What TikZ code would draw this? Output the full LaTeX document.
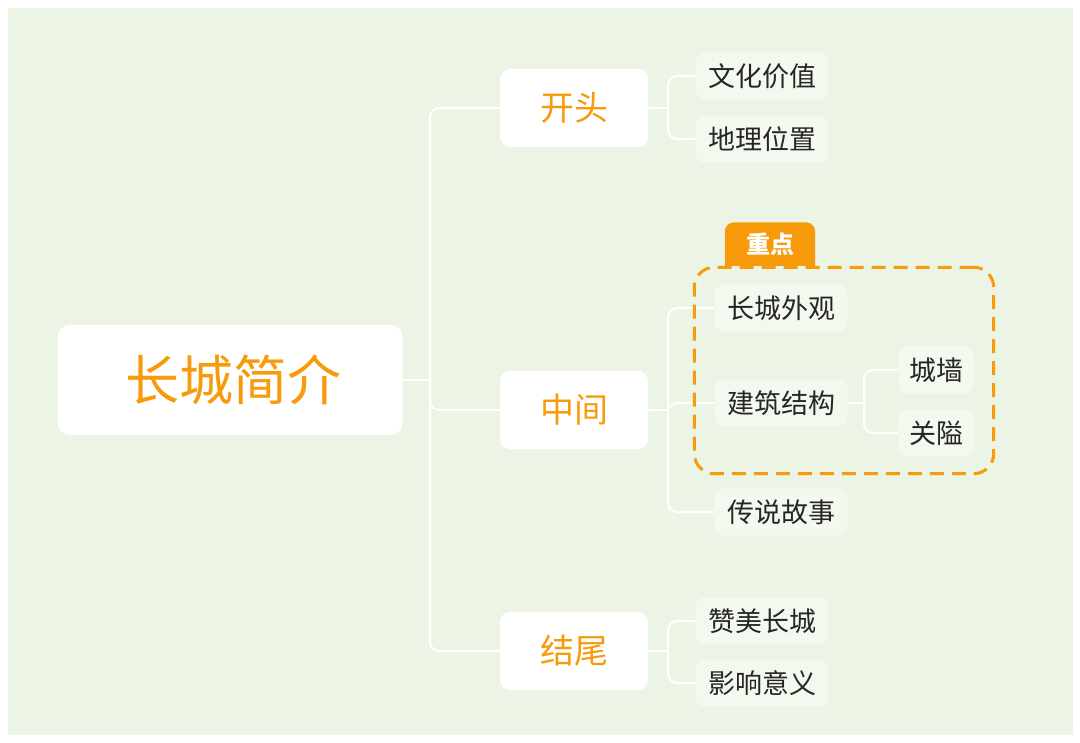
\documentclass[tikz,border=0pt]{standalone}
\usepackage{fontspec}
\setmainfont{Noto Sans CJK SC}
\usetikzlibrary{positioning,fit,backgrounds}

\definecolor{mapgreen}{RGB}{236,244,230}
\definecolor{leafgreen}{RGB}{244,249,240}
\definecolor{maporange}{RGB}{248,155,10}

\begin{document}
\begin{tikzpicture}[
      x=1pt, y=-1pt,
      rootbox/.style ={rectangle, rounded corners=12pt, fill=white, text=maporange,
                       minimum width=345pt, minimum height=110pt, font=\fontsize{54}{60}\selectfont},
      topicbox/.style={rectangle, rounded corners=10pt, fill=white, text=maporange,
                       minimum width=148pt, minimum height=78pt, font=\fontsize{34}{40}\selectfont},
      leafbox/.style ={rectangle, rounded corners=9pt, fill=leafgreen, text=black!85,
                       minimum width=133pt, minimum height=47pt, font=\fontsize{27}{32}\selectfont},
      smallleaf/.style={leafbox, minimum width=75pt},
      tagbox/.style  ={text=white, minimum width=90pt, minimum height=43pt,
                       font=\fontsize{24}{28}\selectfont\bfseries},
      link/.style    ={draw=white, line width=2pt, rounded corners=9pt}
    ]
    \useasboundingbox (0,0) rectangle (1080,743);
    \begin{scope}[on background layer]
      \fill[mapgreen] (8,8) rectangle (1073,735);
    \end{scope}
    % --- root and topics ---
    \node[rootbox]  (root)     at (230,380) {\hspace{6pt}长城简介};
    \node[topicbox] (kaitou)   at (574,108) {开头};
    \node[topicbox] (zhongjian) at (574,410) {中间};
    \node[topicbox] (jiewei)   at (574,651) {结尾};
    % --- leaves ---
    \node[leafbox] (wenhua)    at (762,76)  {文化价值};
    \node[leafbox] (dili)      at (762,139) {地理位置};
    \node[leafbox] (waiguan)   at (781,308) {长城外观};
    \node[leafbox] (jianzhu)   at (781,403) {建筑结构};
    \node[leafbox] (chuanshuo) at (781,512) {传说故事};
    \node[smallleaf] (chengqiang) at (936,370) {城墙};
    \node[smallleaf] (guanai)     at (936,433) {关隘};
    \node[leafbox] (zanmei)    at (762,621) {赞美长城};
    \node[leafbox] (yingxiang) at (762,683) {影响意义};
    % --- fork points ---
    \coordinate (fork0) at (430,380);
    \coordinate (fork1) at (668,108);
    \coordinate (fork2) at (668,410);
    \coordinate (fork3) at (668,651);
    \coordinate (fork4) at (864,403);
    % --- connectors (behind) ---
    \begin{scope}[on background layer]
      \draw[link] (root.east) -- (fork0);
      \draw[link] (fork0) |- (kaitou.west);
      \draw[link] (fork0) |- (zhongjian.west);
      \draw[link] (fork0) |- (jiewei.west);
      \draw[link] (kaitou.east) -- (fork1);
      \draw[link] (fork1) |- (wenhua.west);
      \draw[link] (fork1) |- (dili.west);
      \draw[link] (zhongjian.east) -- (fork2);
      \draw[link] (fork2) |- (waiguan.west);
      \draw[link] (fork2) |- (jianzhu.west);
      \draw[link] (fork2) |- (chuanshuo.west);
      \draw[link] (jianzhu.east) -- (fork4);
      \draw[link] (fork4) |- (chengqiang.west);
      \draw[link] (fork4) |- (guanai.west);
      \draw[link] (jiewei.east) -- (fork3);
      \draw[link] (fork3) |- (zanmei.west);
      \draw[link] (fork3) |- (yingxiang.west);
    \end{scope}
    % --- highlighted group ---
    \node[draw=maporange, line width=3pt, dash pattern=on 14pt off 8pt, rounded corners=20pt,
          fit=(waiguan)(guanai), inner xsep=20pt, inner ysep=17pt] (focus) {};
    \node[tagbox, anchor=south west] (tag) at ([xshift=32pt]focus.north west) {重点};
    \begin{scope}[on background layer]
      \fill[maporange] (tag.south west) -- ([yshift=-9pt]tag.north west)
        arc[start angle=180, end angle=90, radius=9pt] -- ([xshift=-9pt]tag.north east)
        arc[start angle=90, end angle=0, radius=9pt] -- (tag.south east) -- cycle;
    \end{scope}
  \end{tikzpicture}
\end{document}
